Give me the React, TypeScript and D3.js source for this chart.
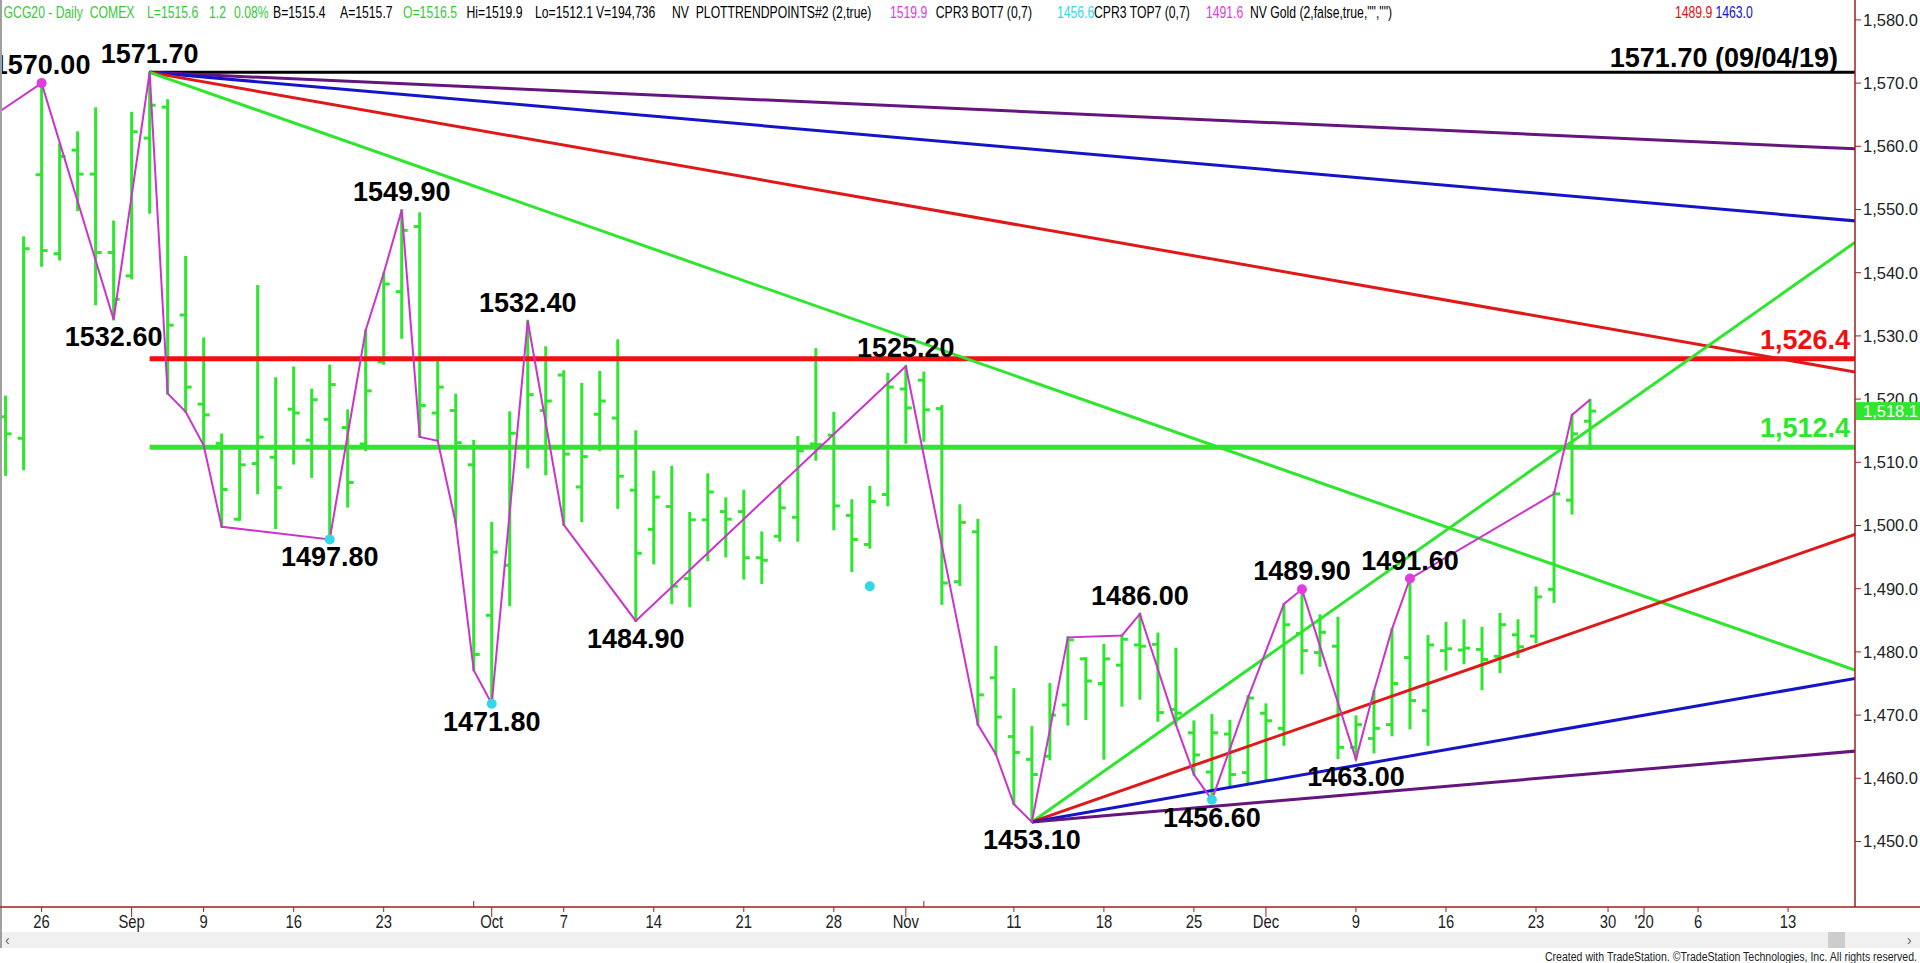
import React from "react";
import * as d3 from "d3";

// ---------- DATA ----------
const barDates: string[] = [
  "2019-08-22","2019-08-23","2019-08-26","2019-08-27","2019-08-28","2019-08-29","2019-08-30",
  "2019-09-03","2019-09-04","2019-09-05","2019-09-06","2019-09-09","2019-09-10","2019-09-11","2019-09-12","2019-09-13",
  "2019-09-16","2019-09-17","2019-09-18","2019-09-19","2019-09-20","2019-09-23","2019-09-24","2019-09-25","2019-09-26","2019-09-27","2019-09-30",
  "2019-10-01","2019-10-02","2019-10-03","2019-10-04","2019-10-07","2019-10-08","2019-10-09","2019-10-10","2019-10-11",
  "2019-10-14","2019-10-15","2019-10-16","2019-10-17","2019-10-18","2019-10-21","2019-10-22","2019-10-23","2019-10-24","2019-10-25",
  "2019-10-28","2019-10-29","2019-10-30","2019-10-31","2019-11-01","2019-11-04","2019-11-05","2019-11-06","2019-11-07","2019-11-08",
  "2019-11-11","2019-11-12","2019-11-13","2019-11-14","2019-11-15","2019-11-18","2019-11-19","2019-11-20","2019-11-21","2019-11-22",
  "2019-11-25","2019-11-26","2019-11-27","2019-11-29","2019-12-02","2019-12-03","2019-12-04","2019-12-05","2019-12-06",
  "2019-12-09","2019-12-10","2019-12-11","2019-12-12","2019-12-13","2019-12-16","2019-12-17","2019-12-18","2019-12-19","2019-12-20",
  "2019-12-23","2019-12-24","2019-12-26","2019-12-27"
];
const leadDates: string[] = ["2019-08-20", "2019-08-21"];
const futureDates: string[] = [
  "2019-12-30","2019-12-31","2020-01-01","2020-01-02","2020-01-03","2020-01-06","2020-01-07","2020-01-08",
  "2020-01-09","2020-01-10","2020-01-13","2020-01-14","2020-01-15","2020-01-16","2020-01-17"
];

const opens: number[] = [
  1517.2,1513.8,1555.5,1543.0,1559.4,1555.6,1543.2,1539.5,1561.3,1566.2,1533.3,1519.2,
  1513.0,1501.0,1509.8,1510.8,1518.4,1513.5,1516.8,1515.5,1512.9,1525.9,
  1537.0,1547.3,1517.8,1518.2,1509.6,1485.8,1493.7,1512.5,1518.2,1523.8,
  1506.1,1517.6,1517.0,1505.6,1499.4,1503.0,1491.6,1500.9,1502.2,1502.2,
  1494.9,1498.3,1501.3,1512.9,1514.3,1501.6,1497.0,1504.9,1521.6,1523.0,
  1518.5,1491.1,1499.0,1475.9,1466.6,1463.0,1463.5,1471.6,1478.9,1475.0,
  1477.9,1481.1,1481.2,1470.9,1467.2,1461.0,1467.0,1460.9,1470.3,1467.9,
  1482.9,1479.9,1480.9,1464.9,1466.3,1468.5,1479.1,1470.7,1480.2,1480.3,
  1480.4,1479.3,1482.7,1482.5,1489.9,1504.0,1516.5
];
const highs: number[] = [
  1520.4,1545.6,1570.0,1560.3,1562.2,1566.0,1548.1,1565.3,1571.7,1567.3,1542.5,1529.6,
  1514.4,1512.2,1537.9,1523.3,1525.0,1521.5,1525.3,1518.2,1530.9,1539.9,
  1549.9,1549.4,1526.4,1520.7,1513.4,1500.4,1517.9,1532.4,1528.2,1524.4,
  1522.4,1524.3,1529.3,1514.9,1508.5,1509.3,1502.0,1508.1,1504.3,1505.5,
  1498.9,1506.4,1514.0,1527.9,1517.8,1504.0,1506.1,1524.0,1525.2,1524.2,
  1518.9,1503.2,1500.9,1480.8,1474.1,1468.1,1474.9,1482.3,1479.0,1481.1,
  1482.6,1486.0,1482.9,1480.5,1469.0,1470.0,1469.1,1473.0,1471.7,1487.6,
  1489.9,1485.8,1485.4,1469.8,1473.8,1483.6,1491.6,1482.5,1484.6,1485.0,
  1483.8,1486.0,1485.0,1490.2,1505.3,1517.5,1519.9
];
const lows: number[] = [
  1508.0,1508.9,1541.1,1542.1,1549.9,1535.0,1532.6,1539.1,1549.5,1520.9,1518.0,1512.7,
  1499.8,1500.9,1505.1,1499.6,1509.8,1507.7,1497.8,1503.0,1511.9,1525.6,
  1529.7,1514.0,1513.4,1500.4,1477.1,1471.8,1487.4,1509.2,1508.1,1500.1,
  1500.7,1511.9,1502.8,1484.9,1494.0,1487.7,1487.2,1494.5,1495.1,1491.6,
  1490.9,1497.6,1497.6,1510.4,1499.4,1492.8,1496.5,1503.2,1513.1,1513.4,
  1487.6,1490.6,1468.5,1463.8,1455.9,1453.1,1463.0,1468.5,1469.4,1463.1,
  1471.5,1472.6,1469.1,1468.5,1460.6,1456.6,1458.6,1459.4,1459.7,1465.3,
  1476.6,1477.8,1463.2,1463.0,1464.1,1466.8,1467.9,1465.3,1477.2,1478.2,
  1474.1,1476.8,1479.2,1481.5,1487.9,1501.9,1512.1
];
const closes: number[] = [
  1514.5,1543.8,1543.5,1558.4,1555.6,1543.2,1535.8,1562.3,1566.5,1531.7,1521.9,1517.5,
  1505.7,1509.6,1514.0,1506.0,1517.8,1519.9,1522.3,1506.8,1521.3,1538.2,
  1546.7,1519.0,1521.9,1513.1,1479.6,1495.8,1514.6,1520.7,1519.7,1511.3,
  1510.9,1519.7,1507.8,1495.6,1504.5,1490.4,1500.9,1505.3,1501.0,1494.9,
  1494.5,1502.8,1511.8,1512.8,1503.1,1497.8,1503.8,1521.9,1518.6,1518.3,
  1490.9,1500.5,1473.2,1469.7,1464.1,1460.6,1470.0,1481.9,1475.4,1478.9,
  1482.0,1480.9,1470.4,1470.3,1463.7,1467.2,1460.6,1472.7,1469.1,1484.3,
  1480.2,1483.1,1464.9,1468.5,1467.9,1475.0,1472.3,1481.1,1480.5,1480.6,
  1478.8,1484.3,1480.8,1488.7,1505.0,1514.5,1518.1
];

const priceTicks: number[] = [1450,1460,1470,1480,1490,1500,1510,1520,1530,1540,1550,1560,1570,1580];

const xTickDates: string[] = [
  "2019-08-26","2019-09-03","2019-09-09","2019-09-16","2019-09-23","2019-10-01","2019-10-07","2019-10-14",
  "2019-10-21","2019-10-28","2019-11-01","2019-11-11","2019-11-18","2019-11-25","2019-12-02","2019-12-09",
  "2019-12-16","2019-12-23","2019-12-30","2020-01-01","2020-01-06","2020-01-13"
];
const xTickLabels: string[] = [
  "26","Sep","9","16","23","Oct","7","14","21","28","Nov","11","18","25","Dec","9","16","23","30","'20","6","13"
];
const minorTickDates: string[] = ["2019-09-30", "2019-11-04"];

// swing labels
const pivotDates: string[] = [
  "2019-08-26","2019-08-30","2019-09-04","2019-09-18","2019-09-24","2019-10-01","2019-10-03","2019-10-11",
  "2019-11-01","2019-11-12","2019-11-20","2019-11-26","2019-12-04","2019-12-09","2019-12-12"
];
const pivotPrices: number[] = [
  1570.0,1532.6,1571.7,1497.8,1549.9,1471.8,1532.4,1484.9,1525.2,1453.1,1486.0,1456.6,1489.9,1463.0,1491.6
];
const pivotAbove: boolean[] = [
  true,false,true,false,true,false,true,false,true,false,true,false,true,false,true
];

// trend-point zigzag (magenta)
const zigDates: string[] = [
  "2019-08-20","2019-08-26","2019-08-30","2019-09-04","2019-09-05","2019-09-06","2019-09-09","2019-09-10",
  "2019-09-18","2019-09-20","2019-09-23","2019-09-24","2019-09-25","2019-09-26","2019-09-27","2019-09-30",
  "2019-10-01","2019-10-03","2019-10-07","2019-10-11","2019-11-01","2019-11-07","2019-11-08","2019-11-11",
  "2019-11-12","2019-11-14","2019-11-19","2019-11-20","2019-11-22","2019-11-25","2019-11-26","2019-11-29",
  "2019-12-03","2019-12-04","2019-12-09","2019-12-10","2019-12-11","2019-12-12","2019-12-24","2019-12-26","2019-12-27"
];
const zigPrices: number[] = [
  1562.3,1570.0,1532.6,1571.7,1520.9,1518.0,1512.7,1499.8,
  1497.8,1530.9,1539.9,1549.9,1514.0,1513.4,1500.4,1477.1,
  1471.8,1532.4,1500.1,1484.9,1525.2,1468.5,1463.8,1455.9,
  1453.1,1482.3,1482.6,1486.0,1468.5,1460.6,1456.6,1472.7,
  1487.6,1489.9,1463.0,1473.8,1483.6,1491.6,1505.0,1517.5,1519.9
];

// marker dots
const dotDates: string[] = ["2019-08-26","2019-12-04","2019-12-12","2019-09-18","2019-10-01","2019-10-30","2019-11-26"];
const dotPrices: number[] = [1570.0,1489.9,1491.6,1497.8,1471.8,1490.4,1456.6];
const dotKinds: string[] = ["top","top","top","bot","bot","bot","bot"];

// trendlines: anchor -> value at end date
const trendFromDates: string[] = [
  "2019-09-04","2019-09-04","2019-09-04","2019-09-04","2019-09-04",
  "2019-11-12","2019-11-12","2019-11-12","2019-11-12"
];
const trendFromPrices: number[] = [1571.7,1571.7,1571.7,1571.7,1571.7,1453.1,1453.1,1453.1,1453.1];
const trendToDate = "2020-01-17";
const trendToPrices: number[] = [1571.7,1559.56,1548.13,1524.16,1476.82,1545.36,1498.88,1475.94,1464.37];
const trendColors: string[] = ["#000000","#65157d","#1515c8","#e01818","#2ee62e","#2ee62e","#e01818","#1515c8","#65157d"];

// horizontal levels
const levelStart = "2019-09-04";
const levelPrices: number[] = [1526.4, 1512.4];
const levelColors: string[] = ["#f01010", "#2ee62e"];

const lastPrice = 1518.1;

const headerParts: [string, number, string][] = [
  ["GCG20 - Daily  COMEX", 3.6, "#36c936"],
  ["L=1515.6", 147, "#36c936"],
  ["1.2", 209, "#36c936"],
  ["0.08%", 234, "#36c936"],
  ["B=1515.4", 273, "#000"],
  ["A=1515.7", 340, "#000"],
  ["O=1516.5", 403, "#36c936"],
  ["Hi=1519.9", 466.5, "#000"],
  ["Lo=1512.1", 535, "#000"],
  ["V=194,736", 596, "#000"],
  ["NV  PLOTTRENDPOINTS#2 (2,true)", 672, "#000"],
  ["1519.9", 890, "#e03ce0"],
  ["CPR3 BOT7 (0,7)", 935.7, "#000"],
  ["1456.6", 1057, "#33d8e8"],
  ["CPR3 TOP7 (0,7)", 1094, "#000"],
  ["1491.6", 1206, "#e03ce0"],
  ["NV Gold (2,false,true,\"\",\"\")", 1250, "#000"],
  ["1489.9", 1675, "#e01010"],
  ["1463.0", 1715.5, "#1010d0"],
];

// ---------- LAYOUT ----------
const W = 1920, H = 963;
const PLOT_RIGHT = 1855, AXIS_Y = 907;
const FONT = "'Liberation Sans', Arial, Helvetica, sans-serif";
const BAR = "#2ee62e";
const AXIS = "#a01e1e";
const HSCALE = 0.74;

const allDates = [...leadDates, ...barDates, ...futureDates];
const slotOf = new Map(allDates.map((d, i) => [d, i]));
const x = d3.scaleLinear().domain([4, 104]).range([41.6, 41.6 + 100 * 18.005]);
const y = d3.scaleLinear().domain([1450, 1580]).range([841.5, 19.9]);
const xd = (d: string) => x(slotOf.get(d) as number);
const fmtPrice = d3.format(",.1f");
const fmtPivot = d3.format(".2f");

export default function App() {
  const zigLine = d3.line<number>().x((i) => xd(zigDates[i])).y((i) => y(zigPrices[i]));
  const zigPath = zigLine(zigDates.map((_, i) => i)) || "";
  return (
    <svg width={W} height={H} style={{ position: "fixed", left: 0, top: 0, display: "block", background: "#fff" }} fontFamily={FONT}>
      <defs>
        <clipPath id="plot"><rect x={2} y={0} width={PLOT_RIGHT - 2} height={AXIS_Y} /></clipPath>
      </defs>
      <rect x={0} y={0} width={W} height={H} fill="#fff" />

      <g clipPath="url(#plot)">
        {/* bars */}
        {barDates.map((d, i) => {
          const cx = xd(d);
          return (
            <g key={d} stroke={BAR} strokeWidth={3}>
              <line x1={cx} x2={cx} y1={y(highs[i]) - 1} y2={y(lows[i]) + 1} />
              <line x1={cx - 6} x2={cx} y1={y(opens[i])} y2={y(opens[i])} />
              <line x1={cx} x2={cx + 6} y1={y(closes[i])} y2={y(closes[i])} />
            </g>
          );
        })}
        {/* horizontal levels */}
        {levelPrices.map((p, i) => (
          <line key={"lv" + i} x1={xd(levelStart)} x2={PLOT_RIGHT} y1={y(p)} y2={y(p)} stroke={levelColors[i]} strokeWidth={5} />
        ))}
        {/* trendlines */}
        {trendFromDates.map((d, i) => (
          <line key={"tl" + i} x1={xd(d)} y1={y(trendFromPrices[i])} x2={xd(trendToDate)} y2={y(trendToPrices[i])}
            stroke={trendColors[i]} strokeWidth={3} />
        ))}
        {/* zigzag */}
        <path d={zigPath} fill="none" stroke="#cc33cc" strokeWidth={2} />
        {/* dots */}
        {dotDates.map((d, i) => (
          <circle key={"dot" + i} cx={xd(d)} cy={y(dotPrices[i])} r={5}
            fill={dotKinds[i] === "top" ? "#e03ce0" : "#33d8e8"} />
        ))}
        {/* pivot labels */}
        {pivotDates.map((d, i) => (
          <text key={"pv" + i} x={xd(d)} y={pivotAbove[i] ? y(pivotPrices[i]) - 9 : y(pivotPrices[i]) + 27}
            textAnchor="middle" fontSize={27} fontWeight="bold" fill="#000">
            {fmtPivot(pivotPrices[i])}
          </text>
        ))}
        {/* level labels */}
        {levelPrices.map((p, i) => (
          <text key={"lvl" + i} x={PLOT_RIGHT - 5} y={y(p) - 10} textAnchor="end" fontSize={27} fontWeight="bold" fill={levelColors[i]}>
            {fmtPrice(p)}
          </text>
        ))}
        <text x={PLOT_RIGHT - 17} y={y(trendFromPrices[0]) - 5} textAnchor="end" fontSize={27} fontWeight="bold" fill="#000">
          {`${fmtPivot(trendFromPrices[0])} (09/04/19)`}
        </text>
      </g>

      {/* frame & axes */}
      <line x1={1} x2={1} y1={0} y2={948} stroke="#a0a0a0" strokeWidth={2} />
      <line x1={PLOT_RIGHT} x2={PLOT_RIGHT} y1={0} y2={AXIS_Y} stroke={AXIS} strokeWidth={1.5} />
      <line x1={0} x2={W} y1={AXIS_Y} y2={AXIS_Y} stroke={AXIS} strokeWidth={1.5} />

      {priceTicks.map((p) => (
        <g key={"pt" + p}>
          <line x1={PLOT_RIGHT} x2={PLOT_RIGHT + 6} y1={y(p)} y2={y(p)} stroke={AXIS} strokeWidth={1} />
          <text x={PLOT_RIGHT + 8} y={y(p)} dy="0.36em" fontSize={16.5} fill="#222">{fmtPrice(p)}</text>
        </g>
      ))}

      {/* last price marker */}
      <rect x={PLOT_RIGHT + 1} y={y(lastPrice) - 9} width={W - PLOT_RIGHT - 1} height={18} fill="#2ee62e" />
      <text x={PLOT_RIGHT + 8} y={y(lastPrice)} dy="0.36em" fontSize={16.5} fill="#fff">{fmtPrice(lastPrice)}</text>

      {xTickDates.map((d, i) => {
        const isMonth = /[A-Za-z']/.test(xTickLabels[i]);
        const cx = xd(d);
        return (
          <g key={"xt" + i}>
            <line x1={cx} x2={cx} y1={AXIS_Y} y2={AXIS_Y + (isMonth ? 10 : 5)} stroke={AXIS} strokeWidth={1} />
            <text transform={`translate(${cx},928) scale(0.8,1)`} textAnchor="middle" fontSize={18.5} fill="#222">
              {xTickLabels[i]}
            </text>
          </g>
        );
      })}
      {minorTickDates.map((d) => (
        <line key={"mt" + d} x1={xd(d)} x2={xd(d)} y1={AXIS_Y - 6} y2={AXIS_Y} stroke={AXIS} strokeWidth={1} />
      ))}

      {/* scrollbar */}
      <rect x={2} y={932} width={W - 2} height={16} fill="#f0f0f0" />
      <rect x={1828} y={932} width={17} height={16} fill="#cdcdcd" />
      <text x={5} y={945} fontSize={14} fill="#606060">‹</text>
      <text x={1907} y={945} fontSize={14} fill="#606060">›</text>

      {/* header */}
      <g transform={`scale(${HSCALE},1)`}>
        {headerParts.map(([t, px, c], i) => (
          <text key={"h" + i} x={px / HSCALE} y={18} fontSize={16.5} fill={c} style={{ whiteSpace: "pre" }}>{t}</text>
        ))}
      </g>

      {/* footer */}
      <text x={1917} y={961} textAnchor="end" fontSize={12.5} fill="#222" textLength={372} lengthAdjust="spacingAndGlyphs">
        Created with TradeStation. ©TradeStation Technologies, Inc. All rights reserved.
      </text>
    </svg>
  );
}
